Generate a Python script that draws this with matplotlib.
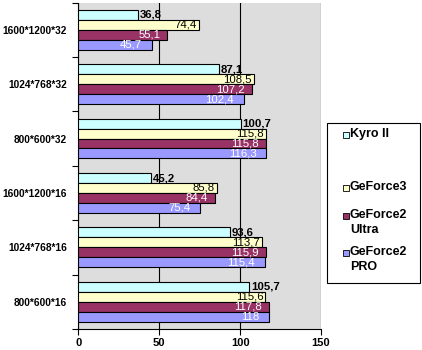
import numpy as np
import matplotlib
matplotlib.use("Agg")
import matplotlib.pyplot as plt
from matplotlib.patches import Rectangle

# data, top to bottom as in the picture
categories = ["1600*1200*32", "1024*768*32", "800*600*32",
              "1600*1200*16", "1024*768*16", "800*600*16"]
kyro = [36.8, 87.1, 100.7, 45.2, 93.6, 105.7]
gf3 = [74.4, 108.5, 115.8, 85.8, 113.7, 115.6]
gf2_ultra = [55.1, 107.2, 115.8, 84.4, 115.9, 117.8]
gf2_pro = [45.7, 102.4, 116.3, 75.4, 115.4, 118]
series_names = ["Kyro II", "GeForce3", "GeForce2\nUltra", "GeForce2\nPRO"]

colors = ["#ccffff", "#ffffcc", "#993366", "#9999ff"]
label_colors = ["black", "black", "white", "white"]

plt.rcParams['font.family'] = ['Liberation Sans', 'DejaVu Sans']

fig = plt.figure(figsize=(4.22, 3.5), dpi=100)
ax = fig.add_axes([78.3 / 422, 21 / 350, (321 - 78.3) / 422, 326.5 / 350])
ax.set_facecolor("#dddddd")

y = np.arange(len(categories))
h = 0.183
series = [kyro, gf3, gf2_ultra, gf2_pro]

for i, vals in enumerate(series):
    pos = y + (i - 1.5) * h
    ax.barh(pos, vals, height=h, color=colors[i], edgecolor="black",
            linewidth=0.8, zorder=3)
    for p, v in zip(pos, vals):
        txt = f"{v:g}".replace(".", ",")
        if i == 0:
            ax.annotate(txt, (v, p), xytext=(1.5, 0), textcoords="offset pixels",
                        ha="left", va="center", fontsize=8.2, fontweight="bold",
                        color="black", zorder=4)
        else:
            off = [0, -2, -7, -10][i]
            ax.annotate(txt, (v, p), xytext=(off, 0), textcoords="offset pixels",
                        ha="right", va="center", fontsize=8.2,
                        color=label_colors[i], zorder=4)

ax.set_xlim(0, 150)
ax.set_ylim(len(categories) - 0.5, -0.5)
ax.set_xticks([0, 50, 100, 150])
ax.xaxis.grid(True, color="black", linewidth=0.8, zorder=1)
ax.set_axisbelow(True)
ax.set_yticks(y)
ax.set_yticklabels(categories, fontweight="bold", fontsize=7.3)
ax.set_yticks(np.arange(-0.5, len(categories), 1), minor=True)
ax.tick_params(axis="y", which="major", length=0, pad=8)
ax.tick_params(axis="y", which="minor", length=4, width=0.8, direction="out")
ax.tick_params(axis="x", length=4, width=0.8, pad=2.5, labelsize=8)
for lab in ax.get_xticklabels():
    lab.set_fontweight("bold")
for s in ["top", "right"]:
    ax.spines[s].set_visible(False)
for s in ["left", "bottom"]:
    ax.spines[s].set_linewidth(0.8)

# legend box drawn in figure pixels
W, H = 422, 350
fig.patches.append(Rectangle((327 / W, 1 - 283 / H), 93 / W, 160 / H,
                             transform=fig.transFigure, facecolor="white",
                             edgecolor="black", linewidth=0.8))
entry_y = [135, 188, 216, 253]
for name, c, yy in zip(series_names, colors, entry_y):
    fig.patches.append(Rectangle((343 / W, 1 - (yy + 3) / H), 6 / W, 6 / H,
                                 transform=fig.transFigure, facecolor=c,
                                 edgecolor="black", linewidth=0.6))
    fig.text(350 / W, 1 - (yy - 7) / H, name, ha="left", va="top",
             fontsize=9, fontweight="bold", linespacing=1.3)

fig.savefig("out.png", dpi=100)
